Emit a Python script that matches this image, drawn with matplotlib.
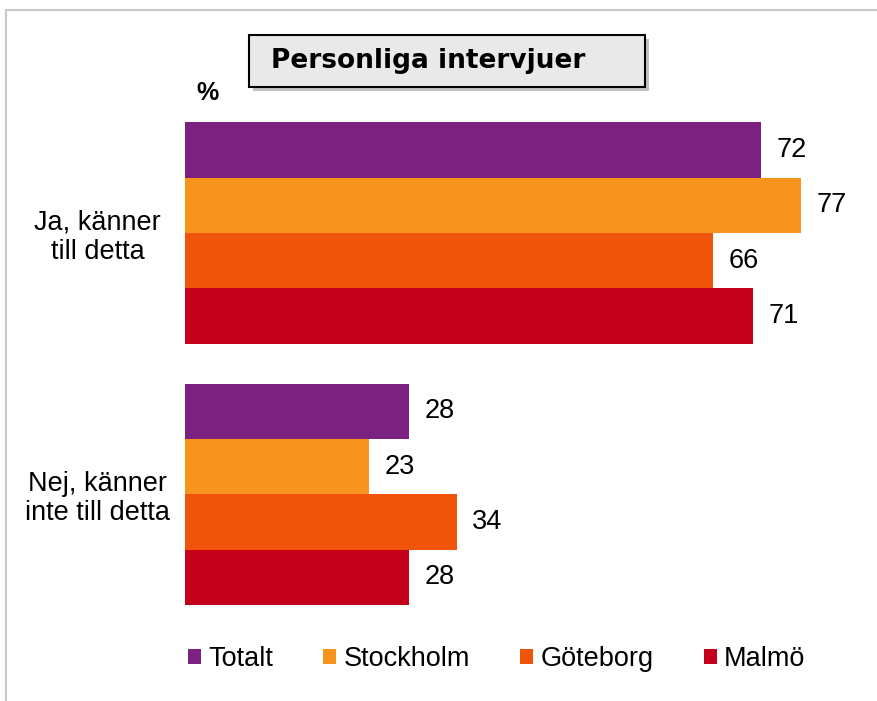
import matplotlib
matplotlib.use("Agg")
import matplotlib.pyplot as plt
from matplotlib.patches import Rectangle
import numpy as np

categories = ["Ja, känner\ntill detta", "Nej, känner\ninte till detta"]
series = ["Totalt", "Stockholm", "Göteborg", "Malmö"]
values = {
    "Totalt": [72, 28],
    "Stockholm": [77, 23],
    "Göteborg": [66, 34],
    "Malmö": [71, 28],
}
colors = ["#7B2180", "#F7941E", "#F0540A", "#C5001B"]
title = "Personliga intervjuer"

plt.rcParams['font.family'] = ['Liberation Sans', 'DejaVu Sans']

W, H = 877, 701
fig = plt.figure(figsize=(W / 100, H / 100), dpi=100)

def fx(px):
    return px / W

def fy(py):
    return 1 - py / H

FS = 19.5

# outer frame
fig.patches.append(Rectangle((fx(6), -0.1), 1.2, fy(10) + 0.1, transform=fig.transFigure,
                             fill=False, edgecolor="#C8C8C8", linewidth=1.5))

ax = fig.add_axes([fx(185), fy(620), fx(849) - fx(185), fy(110) - fy(620)])
h = 0.2115
y = np.arange(len(categories))
for j, (s, c) in enumerate(zip(series, colors)):
    pos = y + (j - 1.5) * h
    bars = ax.barh(pos, values[s], height=h, color=c, label=s, linewidth=0)
    ax.bar_label(bars, labels=[str(v) for v in values[s]], padding=11, fontsize=FS)

ax.set_xlim(0, 83)
ax.set_ylim(1.48, -0.470)
for sp in ax.spines.values():
    sp.set_visible(False)
ax.set_xticks([])
ax.set_yticks(y)
ax.set_yticklabels(categories, fontsize=FS, ha="center", linespacing=1.15)
ax.tick_params(axis="y", length=0, pad=63)

# legend
leg = fig.legend(loc="center left", bbox_to_anchor=(fx(188), fy(659)), ncol=4, frameon=False,
                 fontsize=FS, handlelength=0.48, handleheight=0.48, handletextpad=0.27,
                 columnspacing=1.85, borderaxespad=0, borderpad=0)

# title box with shadow
bx0, by0, bx1, by1 = 249, 35, 645, 87
fig.patches.append(Rectangle((fx(bx0 + 4), fy(by1 + 4)), fx(bx1) - fx(bx0), fy(by0) - fy(by1),
                             transform=fig.transFigure, facecolor="#9A9A9A", edgecolor="none", alpha=0.6))
fig.patches.append(Rectangle((fx(bx0), fy(by1)), fx(bx1) - fx(bx0), fy(by0) - fy(by1),
                             transform=fig.transFigure, facecolor="#E9E9E9", edgecolor="black", linewidth=1.5))
fig.text(fx(271), fy(61), title, fontsize=19, fontweight="bold", family=["DejaVu Sans"],
         ha="left", va="center")
fig.text(fx(196), fy(93), "%", fontsize=18, fontweight="bold", ha="left", va="center")

fig.savefig("out.png", dpi=100)
